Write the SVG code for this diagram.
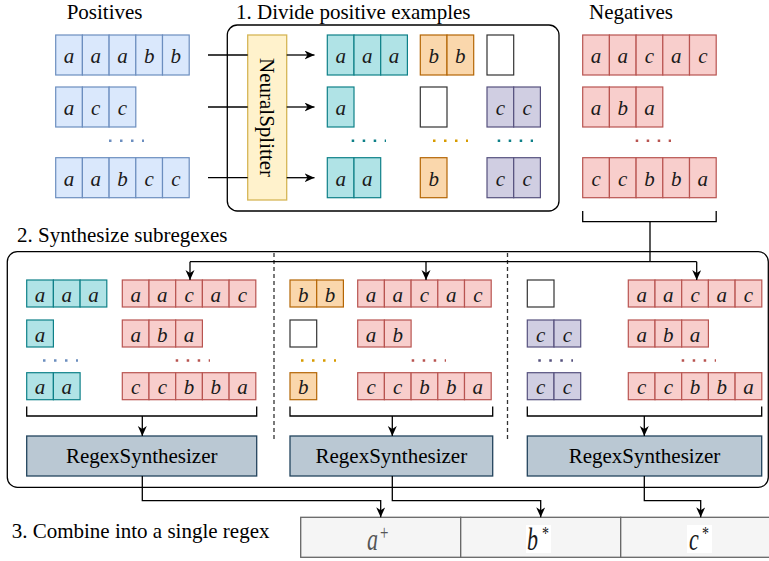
<svg xmlns="http://www.w3.org/2000/svg" width="769" height="561" viewBox="0 0 769 561" font-family="'Liberation Serif', 'DejaVu Serif', serif">
<style>
text{font-family:'Liberation Serif','DejaVu Serif',serif;fill:#000}
.h{font-size:21px}
.l{font-size:21px;font-style:italic;text-anchor:middle;fill:#1a1a1a}
.c rect{stroke-width:1.2}
.b rect{fill:#dae8fc;stroke:#6c8ebf}
.r rect{fill:#f8cecc;stroke:#b85450}
.t rect{fill:#b0e3e6;stroke:#0e8088}
.o rect{fill:#fad7ac;stroke:#b46504}
.p rect{fill:#d0cee2;stroke:#56517e}
.e rect{fill:#fff;stroke:#333}
.dot{stroke-width:2.5;stroke-dasharray:2.5 8.5;fill:none}
.ln{fill:none;stroke:#000;stroke-width:1.3}
.arr{marker-end:url(#ah)}
.rs{fill:#bac8d3;stroke:#23445d;stroke-width:1.3}
.rst{font-size:21px;text-anchor:middle}
.frame{fill:none;stroke:#000;stroke-width:1.3}
.sep{stroke:#333;stroke-width:1.3;stroke-dasharray:4 3}
</style>
<defs>
<marker id="ah" markerUnits="userSpaceOnUse" markerWidth="11" markerHeight="10" refX="10" refY="4.5" orient="auto" viewBox="0 0 11 10">
<path d="M0,0 L10,4.5 L0,9 L3,4.5 Z" fill="#000"/>
</marker>
</defs>

<g id="labels">
<text class="h" x="66.7" y="19">Positives</text>
<text class="h" x="236" y="19">1. Divide positive examples</text>
<text class="h" x="589" y="19">Negatives</text>
<text class="h" x="17" y="242">2. Synthesize subregexes</text>
<text class="h" x="11.7" y="538">3. Combine into a single regex</text>
</g>

<g id="divide-frame"><rect class="frame" x="227.3" y="25" width="331.7" height="186" rx="10"/></g>
<g id="synth-frame">
<rect class="frame" x="7.3" y="251.7" width="761" height="235.6" rx="10"/>
<line class="sep" x1="274" y1="253" x2="274" y2="440"/>
<line class="sep" x1="507.5" y1="253" x2="507.5" y2="440"/>
</g>

<g id="positives" class="c">
<g class="b">
<rect x="55.7" y="35" width="26.7" height="40"/><rect x="82.4" y="35" width="26.7" height="40"/><rect x="109.1" y="35" width="26.7" height="40"/><rect x="135.8" y="35" width="26.7" height="40"/><rect x="162.5" y="35" width="26.7" height="40"/>
<rect x="55.7" y="87" width="26.7" height="40"/><rect x="82.4" y="87" width="26.7" height="40"/><rect x="109.1" y="87" width="26.7" height="40"/>
<rect x="55.7" y="157.7" width="26.7" height="40"/><rect x="82.4" y="157.7" width="26.7" height="40"/><rect x="109.1" y="157.7" width="26.7" height="40"/><rect x="135.8" y="157.7" width="26.7" height="40"/><rect x="162.5" y="157.7" width="26.7" height="40"/>
</g>
<text class="l" x="69.05 95.75 122.45 149.15 175.85" y="63">aaabb</text>
<text class="l" x="69.05 95.75 122.45" y="115">acc</text>
<text class="l" x="69.05 95.75 122.45 149.15 175.85" y="185.7">aabcc</text>
<line class="dot" x1="109" y1="140.7" x2="144" y2="140.7" stroke="#6c8ebf"/>
</g>

<g id="neural-splitter">
<rect x="247.7" y="35" width="39" height="165" fill="#fff2cc" stroke="#d6b656" stroke-width="1.3"/>
<text class="h" transform="translate(267.2,117.5) rotate(90)" x="0" y="7" text-anchor="middle">NeuralSplitter</text>
</g>

<g id="split-a" class="c">
<g class="t">
<rect x="327.3" y="35" width="26.7" height="40"/><rect x="354" y="35" width="26.7" height="40"/><rect x="380.7" y="35" width="26.7" height="40"/>
<rect x="327.3" y="87" width="26.7" height="40"/>
<rect x="327.3" y="157.7" width="26.7" height="40"/><rect x="354" y="157.7" width="26.7" height="40"/>
</g>
<text class="l" x="340.65 367.35 394.05" y="63">aaa</text>
<text class="l" x="340.65" y="115">a</text>
<text class="l" x="340.65 367.35" y="185.7">aa</text>
<line class="dot" x1="351.7" y1="140.7" x2="386" y2="140.7" stroke="#0e8088"/>
</g>

<g id="split-b" class="c">
<g class="o">
<rect x="420.3" y="35" width="26.7" height="40"/><rect x="447" y="35" width="26.7" height="40"/>
<rect x="420.3" y="157.7" width="26.7" height="40"/>
</g>
<g class="e"><rect x="420.3" y="87" width="26.7" height="40"/></g>
<text class="l" x="433.65 460.35" y="63">bb</text>
<text class="l" x="433.65" y="185.7">b</text>
<line class="dot" x1="433" y1="140.7" x2="468" y2="140.7" stroke="#d79b00"/>
</g>

<g id="split-c" class="c">
<g class="e"><rect x="487" y="35" width="26.7" height="40"/></g>
<g class="p">
<rect x="487" y="87" width="26.7" height="40"/><rect x="513.7" y="87" width="26.7" height="40"/>
<rect x="487" y="157.7" width="26.7" height="40"/><rect x="513.7" y="157.7" width="26.7" height="40"/>
</g>
<text class="l" x="500.35 527.05" y="115">cc</text>
<text class="l" x="500.35 527.05" y="185.7">cc</text>
<line class="dot" x1="497.7" y1="140.7" x2="533" y2="140.7" stroke="#0e8088"/>
</g>

<g id="negatives" class="c">
<g class="r">
<rect x="582.7" y="35" width="26.7" height="40"/><rect x="609.4" y="35" width="26.7" height="40"/><rect x="636.1" y="35" width="26.7" height="40"/><rect x="662.8" y="35" width="26.7" height="40"/><rect x="689.5" y="35" width="26.7" height="40"/>
<rect x="582.7" y="87" width="26.7" height="40"/><rect x="609.4" y="87" width="26.7" height="40"/><rect x="636.1" y="87" width="26.7" height="40"/>
<rect x="582.7" y="157.7" width="26.7" height="40"/><rect x="609.4" y="157.7" width="26.7" height="40"/><rect x="636.1" y="157.7" width="26.7" height="40"/><rect x="662.8" y="157.7" width="26.7" height="40"/><rect x="689.5" y="157.7" width="26.7" height="40"/>
</g>
<text class="l" x="596.05 622.75 649.45 676.15 702.85" y="63">aacac</text>
<text class="l" x="596.05 622.75 649.45" y="115">aba</text>
<text class="l" x="596.05 622.75 649.45 676.15 702.85" y="185.7">ccbba</text>
<line class="dot" x1="635.7" y1="140.7" x2="671" y2="140.7" stroke="#b85450"/>
</g>

<g id="task-a" class="c">
<g class="t">
<rect x="26.7" y="280" width="26.7" height="27"/><rect x="53.4" y="280" width="26.7" height="27"/><rect x="80.1" y="280" width="26.7" height="27"/>
<rect x="26.7" y="320" width="26.7" height="27"/>
<rect x="26.7" y="372.7" width="26.7" height="27"/><rect x="53.4" y="372.7" width="26.7" height="27"/>
</g>
<g class="r">
<rect x="122.3" y="280" width="26.7" height="27"/><rect x="149" y="280" width="26.7" height="27"/><rect x="175.7" y="280" width="26.7" height="27"/><rect x="202.4" y="280" width="26.7" height="27"/><rect x="229.1" y="280" width="26.7" height="27"/>
<rect x="122.3" y="320" width="26.7" height="27"/><rect x="149" y="320" width="26.7" height="27"/><rect x="175.7" y="320" width="26.7" height="27"/>
<rect x="122.3" y="372.7" width="26.7" height="27"/><rect x="149" y="372.7" width="26.7" height="27"/><rect x="175.7" y="372.7" width="26.7" height="27"/><rect x="202.4" y="372.7" width="26.7" height="27"/><rect x="229.1" y="372.7" width="26.7" height="27"/>
</g>
<text class="l" x="40.05 66.75 93.45" y="301.5">aaa</text>
<text class="l" x="40.05" y="341.5">a</text>
<text class="l" x="40.05 66.75" y="394.2">aa</text>
<text class="l" x="135.65 162.35 189.05 215.75 242.45" y="301.5">aacac</text>
<text class="l" x="135.65 162.35 189.05" y="341.5">aba</text>
<text class="l" x="135.65 162.35 189.05 215.75 242.45" y="394.2">ccbba</text>
<line class="dot" x1="43" y1="360.5" x2="78" y2="360.5" stroke="#6c8ebf"/>
<line class="dot" x1="175.7" y1="360.5" x2="210" y2="360.5" stroke="#b85450"/>
</g>

<g id="task-b" class="c">
<g class="o">
<rect x="290" y="280" width="26.7" height="27"/><rect x="316.7" y="280" width="26.7" height="27"/>
<rect x="290" y="372.7" width="26.7" height="27"/>
</g>
<g class="e"><rect x="290" y="320" width="26.7" height="27"/></g>
<g class="r">
<rect x="357.7" y="280" width="26.7" height="27"/><rect x="384.4" y="280" width="26.7" height="27"/><rect x="411.1" y="280" width="26.7" height="27"/><rect x="437.8" y="280" width="26.7" height="27"/><rect x="464.5" y="280" width="26.7" height="27"/>
<rect x="357.7" y="320" width="26.7" height="27"/><rect x="384.4" y="320" width="26.7" height="27"/>
<rect x="357.7" y="372.7" width="26.7" height="27"/><rect x="384.4" y="372.7" width="26.7" height="27"/><rect x="411.1" y="372.7" width="26.7" height="27"/><rect x="437.8" y="372.7" width="26.7" height="27"/><rect x="464.5" y="372.7" width="26.7" height="27"/>
</g>
<text class="l" x="303.35 330.05" y="301.5">bb</text>
<text class="l" x="303.35" y="394.2">b</text>
<text class="l" x="371.05 397.75 424.45 451.15 477.85" y="301.5">aacac</text>
<text class="l" x="371.05 397.75" y="341.5">ab</text>
<text class="l" x="371.05 397.75 424.45 451.15 477.85" y="394.2">ccbba</text>
<line class="dot" x1="301" y1="360.5" x2="336" y2="360.5" stroke="#d79b00"/>
<line class="dot" x1="411.7" y1="360.5" x2="446" y2="360.5" stroke="#b85450"/>
</g>

<g id="task-c" class="c">
<g class="e"><rect x="527.3" y="280" width="26.7" height="27"/></g>
<g class="p">
<rect x="527.3" y="320" width="26.7" height="27"/><rect x="554" y="320" width="26.7" height="27"/>
<rect x="527.3" y="372.7" width="26.7" height="27"/><rect x="554" y="372.7" width="26.7" height="27"/>
</g>
<g class="r">
<rect x="628.3" y="280" width="26.7" height="27"/><rect x="655" y="280" width="26.7" height="27"/><rect x="681.7" y="280" width="26.7" height="27"/><rect x="708.4" y="280" width="26.7" height="27"/><rect x="735.1" y="280" width="26.7" height="27"/>
<rect x="628.3" y="320" width="26.7" height="27"/><rect x="655" y="320" width="26.7" height="27"/><rect x="681.7" y="320" width="26.7" height="27"/>
<rect x="628.3" y="372.7" width="26.7" height="27"/><rect x="655" y="372.7" width="26.7" height="27"/><rect x="681.7" y="372.7" width="26.7" height="27"/><rect x="708.4" y="372.7" width="26.7" height="27"/><rect x="735.1" y="372.7" width="26.7" height="27"/>
</g>
<text class="l" x="540.65 567.35" y="341.5">cc</text>
<text class="l" x="540.65 567.35" y="394.2">cc</text>
<text class="l" x="641.65 668.35 695.05 721.75 748.45" y="301.5">aacac</text>
<text class="l" x="641.65 668.35 695.05" y="341.5">aba</text>
<text class="l" x="641.65 668.35 695.05 721.75 748.45" y="394.2">ccbba</text>
<line class="dot" x1="538.3" y1="360.5" x2="573" y2="360.5" stroke="#56517e"/>
<line class="dot" x1="681.7" y1="360.5" x2="716" y2="360.5" stroke="#b85450"/>
</g>

<g id="regex-synth-a"><rect class="rs" x="26.7" y="436" width="230" height="40"/><text class="rst" x="141.7" y="463">RegexSynthesizer</text></g>
<g id="regex-synth-b"><rect class="rs" x="290" y="436" width="202.7" height="40"/><text class="rst" x="391.35" y="463">RegexSynthesizer</text></g>
<g id="regex-synth-c"><rect class="rs" x="527.3" y="436" width="234.4" height="40"/><text class="rst" x="644.5" y="463">RegexSynthesizer</text></g>

<g id="combined-regex">
<rect x="300.7" y="517.3" width="160" height="40" fill="#f5f5f5" stroke="#666" stroke-width="1.3"/>
<rect x="460.7" y="517.3" width="160" height="40" fill="#f5f5f5" stroke="#666" stroke-width="1.3"/>
<rect x="620.7" y="517.3" width="160" height="40" fill="#f5f5f5" stroke="#666" stroke-width="1.3"/>
<rect x="526" y="525" width="25" height="28" fill="#fff"/>
<rect x="687" y="525" width="25" height="28" fill="#fff"/>
<text transform="translate(0,550) scale(1,1.4)" font-size="22"><tspan x="367" y="0" font-style="italic" fill="#555">a</tspan><tspan x="380" y="-7" font-size="15" fill="#555">+</tspan></text>
<text transform="translate(0,550) scale(1,1.4)" font-size="22"><tspan x="527" y="0" font-style="italic" fill="#1a1a1a">b</tspan><tspan x="542" y="-7" font-size="14" fill="#1a1a1a">*</tspan></text>
<text transform="translate(0,550) scale(1,1.4)" font-size="22"><tspan x="689" y="0" font-style="italic" fill="#1a1a1a">c</tspan><tspan x="702" y="-7" font-size="14" fill="#1a1a1a">*</tspan></text>
</g>

<g id="connectors">
<line class="ln" x1="208" y1="55" x2="247.7" y2="55"/>
<line class="ln" x1="208" y1="107" x2="247.7" y2="107"/>
<line class="ln" x1="208" y1="177.7" x2="247.7" y2="177.7"/>
<line class="ln arr" x1="286.7" y1="55" x2="314.5" y2="55"/>
<line class="ln arr" x1="286.7" y1="107" x2="314.5" y2="107"/>
<line class="ln arr" x1="286.7" y1="177.7" x2="314.5" y2="177.7"/>
<path class="ln" d="M582.7,211 V221.7 H716.2 V211"/>
<path class="ln" d="M650,221.7 V261.7"/>
<path class="ln" d="M190,261.7 H696.7"/>
<path class="ln arr" d="M190,261.7 V280"/>
<path class="ln arr" d="M426,261.7 V280"/>
<path class="ln arr" d="M696.7,261.7 V280"/>
<path class="ln" d="M26.7,406.5 V416 H256.7 V406.5"/>
<path class="ln arr" d="M142.3,416 V436"/>
<path class="ln" d="M290,406.5 V416 H492.7 V406.5"/>
<path class="ln arr" d="M392.3,416 V436"/>
<path class="ln" d="M527.3,406.5 V416 H761.7 V406.5"/>
<path class="ln arr" d="M644.3,416 V436"/>
<path class="ln arr" d="M142.3,476 V500.7 H380.7 V517.3"/>
<path class="ln arr" d="M392.3,476 V500.7 H540.7 V517.3"/>
<path class="ln arr" d="M644.3,476 V500.7 H700.7 V517.3"/>
</g>
</svg>
